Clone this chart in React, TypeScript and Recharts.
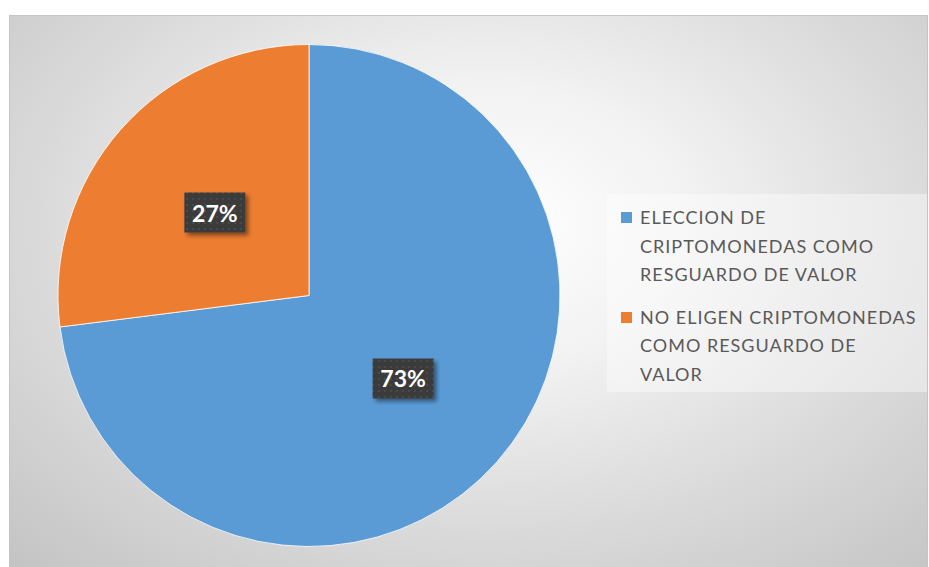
import { PieChart, Pie, Cell, Legend } from 'recharts';

const categories = [
  'ELECCION DE CRIPTOMONEDAS COMO RESGUARDO DE VALOR',
  'NO ELIGEN CRIPTOMONEDAS COMO RESGUARDO DE VALOR',
];
const shares = [73, 27];
const colors = ['#5B9BD5', '#ED7D31'];
// how the legend wraps each category name
const legendLines = [
  ['ELECCION DE', 'CRIPTOMONEDAS COMO', 'RESGUARDO DE VALOR'],
  ['NO ELIGEN CRIPTOMONEDAS', 'COMO RESGUARDO DE', 'VALOR'],
];

const data = categories.map((name, i) => ({ name, value: shares[i] }));

const RAD = Math.PI / 180;

function renderLabel(props: any) {
  const { cx, cy, midAngle, outerRadius, percent, index } = props;
  const r = outerRadius * 0.5;
  const x = cx + r * Math.cos(-midAngle * RAD);
  const y = cy + r * Math.sin(-midAngle * RAD);
  const w = 61;
  const h = 40;
  const pid = `dots-${index}`;
  const fid = `shadow-${index}`;
  return (
    <g>
      <defs>
        <pattern id={pid} width="6" height="6" patternUnits="userSpaceOnUse">
          <rect width="6" height="6" fill="#3b3b3b" />
          <circle cx="3" cy="3" r="1.1" fill="#4d4d4d" />
        </pattern>
        <filter id={fid} x="-20%" y="-20%" width="150%" height="160%">
          <feDropShadow dx="3" dy="3" stdDeviation="2" floodColor="#000" floodOpacity="0.45" />
        </filter>
      </defs>
      <rect x={x - w / 2} y={y - h / 2} width={w} height={h} fill={`url(#${pid})`} filter={`url(#${fid})`} />
      <text
        x={x}
        y={y}
        textAnchor="middle"
        dominantBaseline="central"
        fill="#ffffff"
        fontFamily="Lato, sans-serif"
        fontWeight="bold"
        fontSize={23}
      >
        {`${Math.round(percent * 100)}%`}
      </text>
    </g>
  );
}

function renderLegend(props: any) {
  const { payload } = props;
  return (
    <div
      style={{
        background: 'rgba(255,255,255,0.4)',
        width: 320,
        height: 198,
        boxSizing: 'border-box',
        padding: '9px 0 0 14px',
        fontFamily: 'Lato, sans-serif',
        fontSize: 18,
        letterSpacing: 1,
        lineHeight: '28.6px',
        color: '#595959',
      }}
    >
      {(payload || []).map((entry: any, i: number) => (
        <div key={i} style={{ display: 'flex', alignItems: 'flex-start', marginBottom: 14 }}>
          <span
            style={{
              display: 'inline-block',
              width: 11,
              height: 11,
              marginTop: 9,
              marginRight: 8,
              background: colors[i],
              flex: 'none',
            }}
          />
          <span style={{ whiteSpace: 'pre' }} title={entry.value}>
            {(legendLines[i] || [entry.value]).join('\n')}
          </span>
        </div>
      ))}
    </div>
  );
}

export default function App() {
  return (
    <div
      style={{
        position: 'absolute',
        left: 9,
        top: 15,
        width: 917,
        height: 551,
        border: '1px solid #c4c4c4',
        borderBottom: 'none',
        background:
          'radial-gradient(ellipse 75% 85% at 52% 38%, #ffffff 0%, #f2f2f2 30%, #dadada 65%, #c4c4c4 100%)',
      }}
    >
      <PieChart width={917} height={551}>
        <Pie
          data={data}
          dataKey="value"
          nameKey="name"
          cx={294}
          cy={274.5}
          outerRadius={251}
          startAngle={90}
          endAngle={-270}
          stroke="#ffffff"
          strokeWidth={0.8}
          labelLine={false}
          label={renderLabel}
          isAnimationActive={false}
        >
          {data.map((_, i) => (
            <Cell key={i} fill={colors[i]} />
          ))}
        </Pie>
        <Legend
          content={renderLegend}
          wrapperStyle={{ position: 'absolute', left: 597, top: 178, width: 320, height: 198 }}
        />
      </PieChart>
    </div>
  );
}
